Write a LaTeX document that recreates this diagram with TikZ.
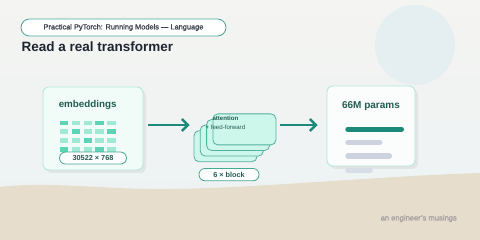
\documentclass[tikz,border=0pt]{standalone}
\usepackage{fontspec}
\setmainfont{Liberation Sans}
\newfontfamily\mediumfont[FakeBold=1.2]{Liberation Sans}
\usepackage{tikz}
\usetikzlibrary{arrows.meta, positioning, shadows}
\definecolor{papertop}{RGB}{244,244,242}
\definecolor{paperbot}{RGB}{236,242,243}
\definecolor{halo}{RGB}{229,239,241}
\definecolor{sand}{RGB}{231,221,204}
\definecolor{tealdark}{RGB}{28,138,120}
\definecolor{pillline}{RGB}{72,168,150}
\definecolor{mintline}{RGB}{180,234,219}
\definecolor{mintfill}{RGB}{241,251,248}
\definecolor{cardfill}{RGB}{250,253,252}
\definecolor{stackfill}{RGB}{206,247,236}
\definecolor{stackline}{RGB}{82,176,158}
\definecolor{inkteal}{RGB}{32,92,82}
\definecolor{titleink}{RGB}{30,36,48}
\definecolor{pillink}{RGB}{62,68,78}
\definecolor{bargray}{RGB}{205,211,222}
\definecolor{barpale}{RGB}{216,222,231}
\definecolor{footgray}{RGB}{164,160,160}
\definecolor{shadowgray}{RGB}{226,229,229}
\definecolor{cellA}{RGB}{94,212,182}
\definecolor{cellB}{RGB}{160,233,213}
\tikzset{
  card/.style={
    rectangle, rounded corners=6pt, draw=mintline, line width=0.9pt,
    inner sep=0pt,
    drop shadow={shadow xshift=3pt, shadow yshift=-3pt, fill=shadowgray, opacity=1}
  },
  embcard/.style={card, fill=mintfill, minimum width=100pt, minimum height=83pt},
  parcard/.style={card, fill=cardfill, minimum width=88pt, minimum height=80pt},
  layer/.style={
    rectangle, rounded corners=5pt, draw=stackline, fill=stackfill,
    line width=0.8pt, minimum width=63pt, minimum height=31pt
  },
  pill/.style={
    rectangle, rounded corners=6pt, draw=pillline, fill=white,
    line width=0.8pt, inner sep=0pt, text=inkteal,
    font=\bfseries\fontsize{7.3}{9}\selectfont
  },
  hdrpill/.style={pill, rounded corners=8.5pt, minimum width=205pt,
    minimum height=17pt, text=pillink, font=\mediumfont\fontsize{7.4}{9}\selectfont},
  arr/.style={-{Straight Barb[length=6pt, width=12pt]}, line width=2.5pt,
    draw=tealdark},
  bar/.style={line width=5.5pt, line cap=round}
}
\begin{document}
\begin{tikzpicture}[x=1pt, y=-1pt]
  \useasboundingbox (0,0) rectangle (480,240);
  \shade[top color=papertop, bottom color=paperbot] (0,0) rectangle (480,240);
  \fill[halo] (415,45) circle (40);
  \fill[sand] (0,187) .. controls (50,181) and (110,190) .. (170,189)
    .. controls (260,188) and (380,176) .. (480,173) -- (480,240) -- (0,240) -- cycle;

  \node[hdrpill] (hdr) at (123.5,27.5) {Practical PyTorch: Running Models — Language};
  \node[anchor=base west, inner sep=0pt, text=titleink,
        font=\bfseries\fontsize{13.5}{16}\selectfont] (ttl) at (21.5,52)
        {Read a real transformer};

  \node[embcard] (emb) at (93,128.5) {};
  \node[anchor=west, inner sep=0pt, text=inkteal,
        font=\bfseries\fontsize{9.8}{12}\selectfont]
        (embttl) at ([xshift=16pt, yshift=-18pt]emb.north west) {embeddings};
  \foreach \shade [count=\i from 0] in {A,B,B,A,B, B,A,B,B,A, B,B,A,B,B, A,B,B,A,B} {
    \pgfmathtruncatemacro\col{mod(\i,5)}
    \pgfmathtruncatemacro\row{div(\i,5)}
    \fill[cell\shade] (60+11.8*\col, 120.7+8.7*\row) rectangle ++(8.3,4.8);
  }
  \node[pill, minimum width=67pt, minimum height=12pt, above=6pt of emb.south]
        (dims) {30522 × 768};

  \foreach \k in {0,...,3}
    \node[layer] (blk\k) at (225.5+6.3*\k, 146.2-5.6*\k) {};
  \node[align=center, inner sep=0pt, text=inkteal, font=\fontsize{6.1}{9}\selectfont]
        (blklbl) at ([xshift=-19pt, yshift=7pt]blk3.center)
        {\textbf{attention}\\+ feed-forward};
  \node[pill, minimum width=60pt, minimum height=12.3pt,
        below=6pt of blk0.south, xshift=3.5pt] (reps) {6 × block};

  \node[parcard] (par) at (371,126) {};
  \node[inner sep=0pt, text=inkteal, font=\bfseries\fontsize{10}{12}\selectfont]
        (parttl) at ([yshift=-20pt]par.north) {66M params};
  \draw[bar, tealdark] (348,129.3) -- (401.3,129.3);
  \draw[bar, bargray] (348,142.5) -- (379.7,142.5);
  \draw[bar, bargray] (348,156) -- (389.3,156);
  \draw[bar, barpale] (348,170.7) -- (370,170.7);

  \draw[arr, shorten <=5pt, shorten >=4pt]
    ([yshift=3.5pt]emb.east) -- ([yshift=3.5pt]emb.east -| blk0.west);
  \draw[arr, shorten <=3.5pt, shorten >=9pt]
    ([yshift=1pt]par.west -| blk3.east) -- ([yshift=1pt]par.west);

  \node[anchor=east, inner sep=0pt, text=footgray, font=\mediumfont\fontsize{7.6}{9}\selectfont]
        (foot) at (457,218.5) {an engineer’s musings};
\end{tikzpicture}
\end{document}
